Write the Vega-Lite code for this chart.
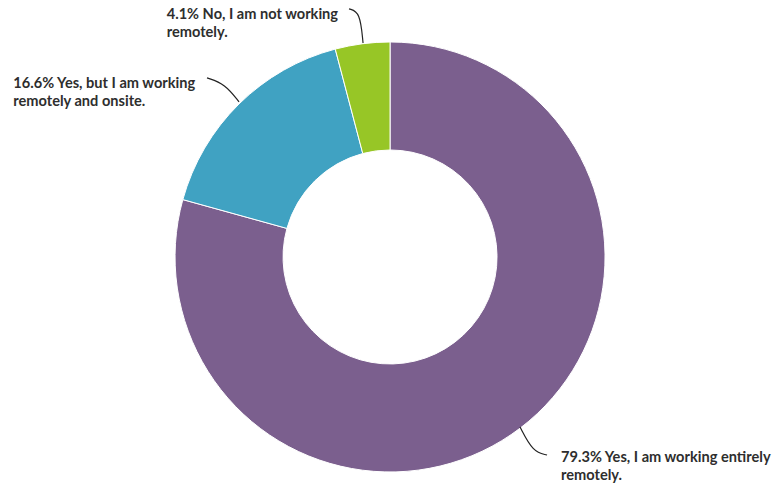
{
  "$schema": "https://vega.github.io/schema/vega-lite/v6.json",
  "width": 779,
  "height": 486,
  "autosize": {"type": "fit", "contains": "padding"},
  "padding": 0,
  "background": "white",
  "view": {"stroke": null},
  "config": {"font": "Lato"},
  "datasets": {
    "slices": [
      {"answer": "Yes, I am working entirely remotely.", "pct": 79.3, "order": 1, "x": 0, "y": 0},
      {"answer": "Yes, but I am working remotely and onsite.", "pct": 16.6, "order": 2, "x": 0, "y": 0},
      {"answer": "No, I am not working remotely.", "pct": 4.1, "order": 3, "x": 0, "y": 0}
    ],
    "labels": [
      {"label": "4.1% No, I am not working\nremotely.", "x": -103.86, "y": 110.47},
      {"label": "16.6% Yes, but I am working\nremotely and onsite.", "x": -175.21, "y": 78.37},
      {"label": "79.3% Yes, I am working entirely\nremotely.", "x": 79.53, "y": -95.12}
    ],
    "leaders": [
      {"line": "green", "i": 1, "x": -19.07, "y": 115.35},
      {"line": "green", "i": 2, "x": -13.95, "y": 113.95},
      {"line": "green", "i": 3, "x": -12.56, "y": 99.53},
      {"line": "blue", "i": 1, "x": -85.12, "y": 83.26},
      {"line": "blue", "i": 2, "x": -76.74, "y": 80.47},
      {"line": "blue", "i": 3, "x": -70.23, "y": 72.09},
      {"line": "purple", "i": 1, "x": 60.47, "y": -79.07},
      {"line": "purple", "i": 2, "x": 66.51, "y": -90.7},
      {"line": "purple", "i": 3, "x": 73.02, "y": -92.09}
    ]
  },
  "layer": [
    {
      "data": {"name": "slices"},
      "mark": {"type": "arc", "outerRadius": 215, "innerRadius": 107, "stroke": "white", "strokeWidth": 1},
      "encoding": {
        "theta": {"field": "pct", "type": "quantitative", "stack": true},
        "order": {"field": "order", "type": "quantitative"},
        "color": {
          "field": "answer", "type": "nominal", "legend": null,
          "scale": {
            "domain": ["Yes, I am working entirely remotely.", "Yes, but I am working remotely and onsite.", "No, I am not working remotely."],
            "range": ["#7B5F8E", "#40A2C2", "#97C626"]
          }
        },
        "x": {"field": "x", "type": "quantitative", "axis": null, "scale": {"domain": [-181.4, 180.9], "nice": false, "zero": false}},
        "y": {"field": "y", "type": "quantitative", "axis": null, "scale": {"domain": [-106.5, 119.5], "nice": false, "zero": false}}
      }
    },
    {
      "data": {"name": "leaders"},
      "mark": {"type": "line", "interpolate": "basis", "color": "#222222", "strokeWidth": 1.2},
      "encoding": {
        "x": {"field": "x", "type": "quantitative"},
        "y": {"field": "y", "type": "quantitative"},
        "detail": {"field": "line", "type": "nominal"},
        "order": {"field": "i", "type": "quantitative"}
      }
    },
    {
      "data": {"name": "labels"},
      "mark": {"type": "text", "align": "left", "baseline": "alphabetic", "lineBreak": "\n", "lineHeight": 18, "font": "Lato", "fontWeight": "bold", "fontSize": 14.6, "color": "#2e2e2e"},
      "encoding": {
        "x": {"field": "x", "type": "quantitative"},
        "y": {"field": "y", "type": "quantitative"},
        "text": {"field": "label", "type": "nominal"}
      }
    }
  ]
}
